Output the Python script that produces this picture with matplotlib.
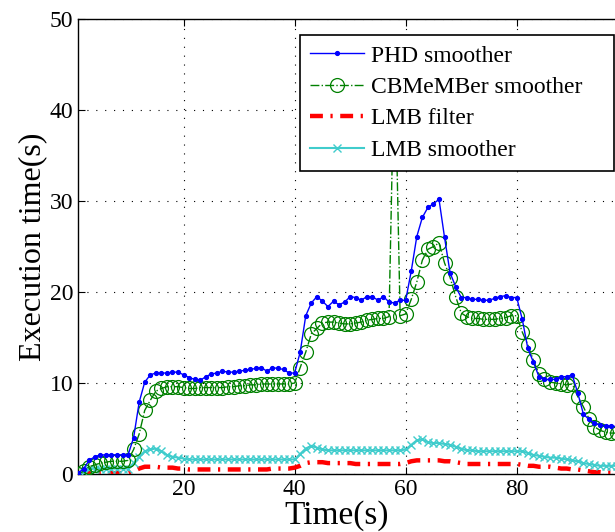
import numpy as np
import matplotlib
matplotlib.use("Agg")
import matplotlib.pyplot as plt

# time steps 1..98
t = list(range(1, 99))

phd_smoother = [
    0.1, 0.6, 1.5, 1.9, 2.1, 2.1, 2.1, 2.1, 2.1, 2.1,
    4.0, 7.9, 10.1, 10.9, 11.1, 11.1, 11.1, 11.2, 11.2, 10.9,
    10.6, 10.4, 10.3, 10.7, 11.0, 11.1, 11.3, 11.2, 11.2, 11.3,
    11.4, 11.5, 11.6, 11.7, 11.3, 11.7, 11.6, 11.5, 11.1, 11.1,
    13.4, 17.4, 18.8, 19.5, 19.0, 18.4, 19.0, 18.6, 18.9, 19.5,
    19.4, 19.1, 19.5, 19.5, 19.1, 19.5, 18.9, 18.8, 19.1, 19.1,
    22.3, 26.1, 28.2, 29.3, 29.7, 30.2, 26.0, 22.1, 20.6, 19.4,
    19.4, 19.2, 19.2, 19.1, 19.1, 19.3, 19.5, 19.6, 19.4, 19.4,
    17.0, 13.8, 12.3, 10.7, 10.4, 10.4, 10.4, 10.7, 10.7, 10.9,
    8.9, 6.6, 6.0, 5.6, 5.4, 5.3, 5.3, 5.2,
]

cbmember_smoother = [
    0.0, 0.3, 0.8, 1.0, 1.2, 1.3, 1.4, 1.4, 1.4, 1.5,
    2.7, 4.4, 7.0, 8.1, 9.1, 9.4, 9.6, 9.6, 9.6, 9.5,
    9.4, 9.4, 9.5, 9.5, 9.5, 9.5, 9.5, 9.6, 9.6, 9.7,
    9.7, 9.8, 9.8, 9.9, 9.9, 9.9, 9.9, 9.9, 9.9, 10.0,
    11.7, 13.4, 15.4, 16.0, 16.6, 16.7, 16.7, 16.6, 16.5, 16.5,
    16.6, 16.7, 16.9, 17.0, 17.1, 17.1, 17.3, 47.0, 17.4, 17.6,
    19.2, 21.1, 23.5, 24.7, 25.0, 25.4, 23.2, 21.6, 19.5, 17.7,
    17.3, 17.1, 17.1, 17.0, 17.0, 17.0, 17.1, 17.2, 17.4, 17.4,
    15.6, 14.2, 12.5, 11.0, 10.4, 10.1, 10.0, 9.9, 9.8, 9.9,
    8.5, 7.4, 6.1, 5.2, 4.8, 4.6, 4.5, 4.5,
]

lmb_filter = [
    0.1, 0.1, 0.1, 0.1, 0.1, 0.1, 0.1, 0.1, 0.1, 0.1,
    0.3, 0.6, 0.8, 0.8, 0.8, 0.7, 0.7, 0.7, 0.6, 0.6,
    0.5, 0.5, 0.5, 0.5, 0.5, 0.5, 0.5, 0.5, 0.5, 0.5,
    0.5, 0.5, 0.5, 0.5, 0.5, 0.6, 0.6, 0.6, 0.6, 0.7,
    0.9, 1.2, 1.3, 1.3, 1.3, 1.2, 1.2, 1.2, 1.2, 1.2,
    1.1, 1.1, 1.1, 1.1, 1.1, 1.1, 1.1, 1.1, 1.1, 1.2,
    1.4, 1.5, 1.5, 1.5, 1.5, 1.5, 1.4, 1.4, 1.3, 1.2,
    1.1, 1.1, 1.1, 1.1, 1.1, 1.1, 1.1, 1.1, 1.1, 1.1,
    1.0, 0.9, 0.9, 0.8, 0.8, 0.8, 0.7, 0.6, 0.6, 0.5,
    0.5, 0.4, 0.3, 0.2, 0.2, 0.15, 0.15, 0.15,
]

lmb_smoother = [
    0.0, 0.2, 0.5, 0.6, 0.6, 0.6, 0.6, 0.6, 0.6, 0.6,
    1.2, 1.9, 2.5, 2.7, 2.8, 2.5, 2.1, 1.9, 1.8, 1.7,
    1.6, 1.6, 1.6, 1.6, 1.6, 1.6, 1.6, 1.6, 1.6, 1.6,
    1.6, 1.6, 1.6, 1.6, 1.6, 1.6, 1.6, 1.6, 1.6, 1.6,
    2.2, 2.8, 3.1, 2.9, 2.7, 2.6, 2.6, 2.6, 2.6, 2.6,
    2.6, 2.6, 2.6, 2.6, 2.6, 2.6, 2.6, 2.6, 2.6, 2.7,
    3.2, 3.7, 3.8, 3.5, 3.4, 3.4, 3.3, 3.2, 3.0, 2.8,
    2.6, 2.6, 2.5, 2.5, 2.5, 2.5, 2.5, 2.5, 2.5, 2.5,
    2.5, 2.3, 2.1, 2.0, 1.9, 1.8, 1.8, 1.7, 1.6, 1.5,
    1.4, 1.2, 1.1, 1.0, 0.9, 0.9, 0.9, 0.9,
]

plt.rcParams['font.family'] = ['Liberation Serif', 'DejaVu Serif']

fig = plt.figure(figsize=(6.15, 5.32), dpi=100)
ax = fig.add_axes([0.127, 0.109, 0.873, 0.855])

ax.plot(t, phd_smoother, color='b', lw=1.0, marker='.', markersize=5.5,
        label='PHD smoother', zorder=5)
ax.plot(t, cbmember_smoother, color=(0.0, 0.5, 0.0), lw=1.0, linestyle='-.',
        marker='o', markersize=10, markerfacecolor='none', markeredgewidth=0.9,
        label='CBMeMBer smoother', zorder=4)
ax.plot(t, lmb_filter, color='r', lw=3.2, dashes=(2.9, 1.7, 0.5, 1.7),
        label='LMB filter', zorder=3)
ax.plot(t, lmb_smoother, color=(0.25, 0.8, 0.8), lw=1.5, marker='x',
        markersize=6, markeredgewidth=1.0, label='LMB smoother', zorder=3)

ax.set_xlim(1, 97.7)
ax.set_ylim(0, 50)
ax.set_xticks([20, 40, 60, 80])
ax.set_yticks([0, 10, 20, 30, 40, 50])
ax.grid(True, color='k', lw=0.8, linestyle=(0, (1, 7)))
ax.tick_params(direction='in', top=True, right=False, length=5,
               labelsize=17, width=0.8)
ax.spines['right'].set_visible(False)
for s in ['left', 'top', 'bottom']:
    ax.spines[s].set_linewidth(1.0)

ax.set_xlabel('Time(s)', fontsize=24)
ax.xaxis.set_label_coords(0.482, -0.058)
ax.set_ylabel('Execution time(s)', fontsize=23, labelpad=2)

leg = ax.legend(loc='upper left', bbox_to_anchor=(0.413, 0.965, 0.585, 0.0),
                mode='expand', borderaxespad=0, fancybox=False, edgecolor='k',
                framealpha=1, fontsize=17, handlelength=2.3,
                handletextpad=0.3, labelspacing=0.42, borderpad=0.42)
leg.get_frame().set_linewidth(1.2)

fig.savefig('out.png', dpi=100)
